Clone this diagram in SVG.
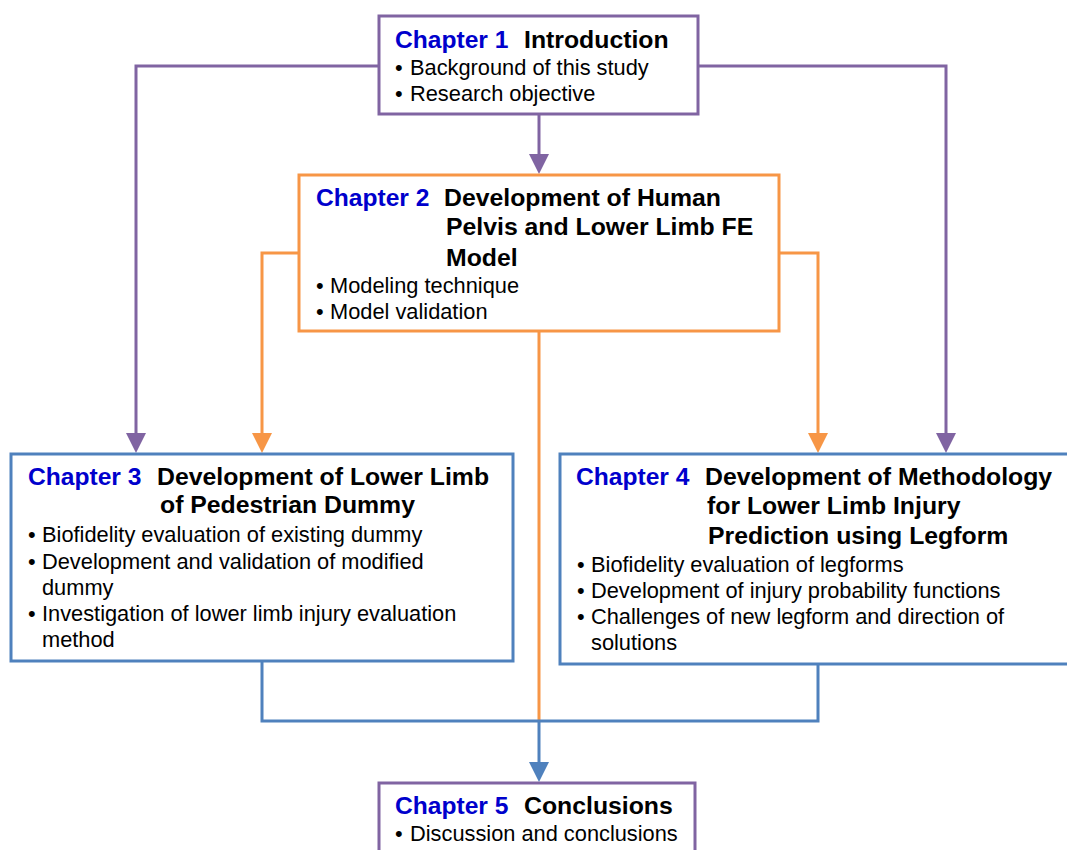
<svg xmlns="http://www.w3.org/2000/svg" width="1067" height="850" viewBox="0 0 1067 850">
<defs>
<style>
.box{fill:#fff;stroke-width:3}
.p{stroke:#8064A2}
.o{stroke:#F79646}
.b{stroke:#4F81BD}
.ln{fill:none;stroke-width:3}
text{font-family:"Liberation Sans",Arial,sans-serif}
.ch{font-size:24.6px;font-weight:bold;fill:#0000CC}
.tt{font-size:24.8px;font-weight:bold;fill:#000}
.bl{font-size:21.8px;fill:#000}
</style>
<marker id="ap" markerUnits="userSpaceOnUse" markerWidth="20" markerHeight="20" refX="0" refY="10" orient="auto"><path d="M0,0 L20,10 L0,20 z" fill="#8064A2"/></marker>
<marker id="ao" markerUnits="userSpaceOnUse" markerWidth="20" markerHeight="20" refX="0" refY="10" orient="auto"><path d="M0,0 L20,10 L0,20 z" fill="#F79646"/></marker>
<marker id="ab" markerUnits="userSpaceOnUse" markerWidth="20" markerHeight="20" refX="0" refY="10" orient="auto"><path d="M0,0 L20,10 L0,20 z" fill="#4F81BD"/></marker>
</defs>
<rect width="1067" height="850" fill="#fff"/>
<g id="connectors">
<path class="ln p" d="M539,114 V154" marker-end="url(#ap)"/>
<path class="ln p" d="M379,66 H136 V433" marker-end="url(#ap)"/>
<path class="ln p" d="M698,66 H946 V433" marker-end="url(#ap)"/>
<path class="ln o" d="M299,253 H262 V433" marker-end="url(#ao)"/>
<path class="ln o" d="M779,253 H818 V433" marker-end="url(#ao)"/>
<path class="ln o" d="M539,331 V720"/>
<path class="ln b" d="M262,661 V721 H818 V664"/>
<path class="ln b" d="M539,721 V762" marker-end="url(#ab)"/>
</g>
<g id="ch1">
<rect class="box p" x="379" y="16" width="319" height="98"/>
<text class="ch" x="395" y="48">Chapter 1</text>
<text class="tt" x="524" y="48">Introduction</text>
<text class="bl" x="395" y="75">•</text><text class="bl" x="410" y="75">Background of this study</text>
<text class="bl" x="395" y="101">•</text><text class="bl" x="410" y="101">Research objective</text>
</g>
<g id="ch2">
<rect class="box o" x="299" y="175" width="480" height="156"/>
<text class="ch" x="316" y="206">Chapter 2</text>
<text class="tt" x="444" y="206">Development of Human</text>
<text class="tt" x="446" y="235">Pelvis and Lower Limb FE</text>
<text class="tt" x="446" y="266">Model</text>
<text class="bl" x="316" y="293">•</text><text class="bl" x="330" y="293">Modeling technique</text>
<text class="bl" x="316" y="319">•</text><text class="bl" x="330" y="319">Model validation</text>
</g>
<g id="ch3">
<rect class="box b" x="11" y="454" width="502" height="207"/>
<text class="ch" x="28" y="485">Chapter 3</text>
<text class="tt" x="157" y="485">Development of Lower Limb</text>
<text class="tt" x="160" y="513">of Pedestrian Dummy</text>
<text class="bl" x="28" y="542">•</text><text class="bl" x="42" y="542">Biofidelity evaluation of existing dummy</text>
<text class="bl" x="28" y="569">•</text><text class="bl" x="42" y="569">Development and validation of modified</text>
<text class="bl" x="42" y="595">dummy</text>
<text class="bl" x="28" y="621">•</text><text class="bl" x="42" y="621">Investigation of lower limb injury evaluation</text>
<text class="bl" x="42" y="647">method</text>
</g>
<g id="ch4">
<rect class="box b" x="560" y="454" width="515" height="210"/>
<text class="ch" x="576" y="485">Chapter 4</text>
<text class="tt" x="705" y="485">Development of Methodology</text>
<text class="tt" x="707" y="514">for Lower Limb Injury</text>
<text class="tt" x="708" y="544">Prediction using Legform</text>
<text class="bl" x="577" y="572">•</text><text class="bl" x="591" y="572">Biofidelity evaluation of legforms</text>
<text class="bl" x="577" y="598">•</text><text class="bl" x="591" y="598">Development of injury probability functions</text>
<text class="bl" x="577" y="624">•</text><text class="bl" x="591" y="624">Challenges of new legform and direction of</text>
<text class="bl" x="591" y="650">solutions</text>
</g>
<g id="ch5">
<rect class="box p" x="379" y="783" width="316" height="80"/>
<text class="ch" x="395" y="814">Chapter 5</text>
<text class="tt" x="524" y="814">Conclusions</text>
<text class="bl" x="395" y="841">•</text><text class="bl" x="410" y="841">Discussion and conclusions</text>
</g>
</svg>
